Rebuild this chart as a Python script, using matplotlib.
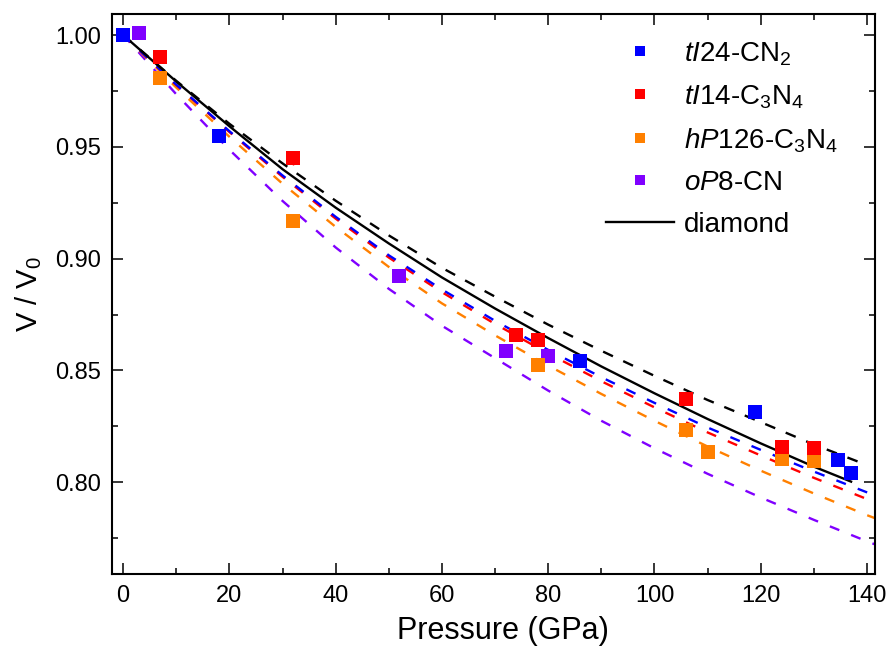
import matplotlib
matplotlib.use("Agg")
import matplotlib.pyplot as plt
from matplotlib.ticker import MultipleLocator
from matplotlib.lines import Line2D

plt.rcParams['font.family'] = ['Liberation Sans', 'DejaVu Sans']
plt.rcParams['mathtext.fontset'] = 'custom'
plt.rcParams['mathtext.rm'] = 'Liberation Sans'
plt.rcParams['mathtext.it'] = 'Liberation Sans:italic'

# ---------------- data ----------------
labels = [r'$\mathit{tI}$24-CN$_2$', r'$\mathit{tI}$14-C$_3$N$_4$',
          r'$\mathit{hP}$126-C$_3$N$_4$', r'$\mathit{oP}$8-CN']
colors = ['#0000FF', '#FF0000', '#FF8000', '#8000FF']

# measured / computed points
p_tI24 = [0, 18, 86, 119, 134.5, 137]
v_tI24 = [1.000, 0.9548, 0.8542, 0.8315, 0.8098, 0.8042]
p_tI14 = [7, 32, 74, 78, 106, 124, 130]
v_tI14 = [0.9903, 0.9449, 0.8660, 0.8635, 0.8371, 0.8160, 0.8154]
e_tI14 = [0.0012, 0.0030, 0.0010, 0.0010, 0.0010, 0.0010, 0.0010]
p_hP126 = [7, 32, 78, 106, 110, 124, 130]
v_hP126 = [0.9806, 0.9167, 0.8523, 0.8232, 0.8134, 0.8102, 0.8094]
p_oP8 = [3, 52, 72, 80]
v_oP8 = [1.0010, 0.8922, 0.8586, 0.8563]

# EOS fit curves
p_fit = [0, 10, 20, 30, 40, 50, 60, 70, 80, 90, 100, 110, 120, 130, 140, 142]
fit_tI24 = [1.0, 0.9778, 0.9570, 0.9372, 0.9187, 0.9015, 0.8862, 0.8722, 0.8592,
            0.8470, 0.8355, 0.8245, 0.8145, 0.8048, 0.7955, 0.7937]
fit_tI14 = [1.0, 0.9776, 0.9566, 0.9366, 0.9179, 0.9005, 0.8850, 0.8708, 0.8576,
            0.8452, 0.8335, 0.8223, 0.8120, 0.8020, 0.7925, 0.7907]
fit_hP126 = [1.0, 0.9765, 0.9545, 0.9335, 0.9142, 0.8963, 0.8800, 0.8657, 0.8522,
             0.8395, 0.8275, 0.8160, 0.8052, 0.7950, 0.7853, 0.7835]
fit_oP8 = [1.0, 0.9735, 0.9487, 0.9258, 0.9050, 0.8865, 0.8700, 0.8555, 0.8410,
           0.8275, 0.8152, 0.8038, 0.7932, 0.7832, 0.7736, 0.7718]
p_ref = [0, 10, 20, 30, 40, 50, 60, 70, 80, 90, 100, 110, 120, 130, 140]
fit_ref = [1.0, 0.9795, 0.9603, 0.9426, 0.9259, 0.9104, 0.8959, 0.8830, 0.8705,
           0.8588, 0.8476, 0.8368, 0.8269, 0.8169, 0.8077]
p_dia = [0, 10, 20, 30, 40, 50, 60, 70, 80, 90, 100, 110, 120, 130, 137]
v_dia = [1.0, 0.9792, 0.9592, 0.9400, 0.9228, 0.9068, 0.8916, 0.8777, 0.8645,
         0.8518, 0.8398, 0.8283, 0.8174, 0.8070, 0.8003]

# ---------------- figure ----------------
fig = plt.figure(figsize=(8.89, 6.57), dpi=100)
ax = fig.add_axes([112/889, 1-574/657, (875-112)/889, (574-14)/657])

dash = (4.3, 5.4)
lw = 1.7
ax.plot(p_ref, fit_ref, color='black', lw=lw, dashes=(4.6, 4.8))
ax.plot(p_fit, fit_oP8, color=colors[3], lw=lw, dashes=dash)
ax.plot(p_fit, fit_hP126, color=colors[2], lw=lw, dashes=dash)
ax.plot(p_fit, fit_tI14, color=colors[1], lw=lw, dashes=dash)
ax.plot(p_fit, fit_tI24, color=colors[0], lw=lw, dashes=dash)
ax.plot(p_dia, v_dia, color='black', lw=1.7, zorder=3)

ms = 9.5
ax.errorbar(p_oP8, v_oP8, fmt='s', color=colors[3], ms=ms, mew=0, zorder=4)
ax.errorbar(p_hP126, v_hP126, fmt='s', color=colors[2], ms=ms, mew=0, zorder=4)
ax.errorbar(p_tI14, v_tI14, yerr=e_tI14, fmt='s', color=colors[1], ms=ms, mew=0,
            capsize=4, elinewidth=1, capthick=1, zorder=4)
ax.errorbar(p_tI24, v_tI24, fmt='s', color=colors[0], ms=ms, mew=0, zorder=5)

# legend handles
handles = [Line2D([], [], ls='none', marker='s', color=c, ms=7.5, mew=0) for c in colors]
handles.append(Line2D([], [], color='black', lw=1.7))
leg = ax.legend(handles, labels + ['diamond'], loc='upper left',
                bbox_to_anchor=(606/889, 1-40/657), bbox_transform=fig.transFigure,
                frameon=False, fontsize=20, handlelength=2.45, handletextpad=0.35,
                labelspacing=0.56, borderpad=0, borderaxespad=0)

ax.set_xlim(-2.1, 141.5)
ax.set_ylim(0.759, 1.0094)
ax.xaxis.set_major_locator(MultipleLocator(20))
ax.xaxis.set_minor_locator(MultipleLocator(10))
ax.yaxis.set_major_locator(MultipleLocator(0.05))
ax.yaxis.set_minor_locator(MultipleLocator(0.025))
ax.yaxis.set_major_formatter(matplotlib.ticker.FormatStrFormatter('%.2f'))
ax.tick_params(which='both', direction='in', top=True, right=True, width=1.1,
               labelsize=17)
ax.tick_params(which='major', length=8, pad=8)
ax.tick_params(which='minor', length=4.5)
for s in ax.spines.values():
    s.set_linewidth(1.5)

ax.set_xlabel('Pressure (GPa)', fontsize=22, labelpad=8)
ax.xaxis.set_label_coords(0.512, -0.075)
ax.set_ylabel(r'V / V$_0$', fontsize=21, labelpad=8)

fig.savefig('out.png', dpi=100)
